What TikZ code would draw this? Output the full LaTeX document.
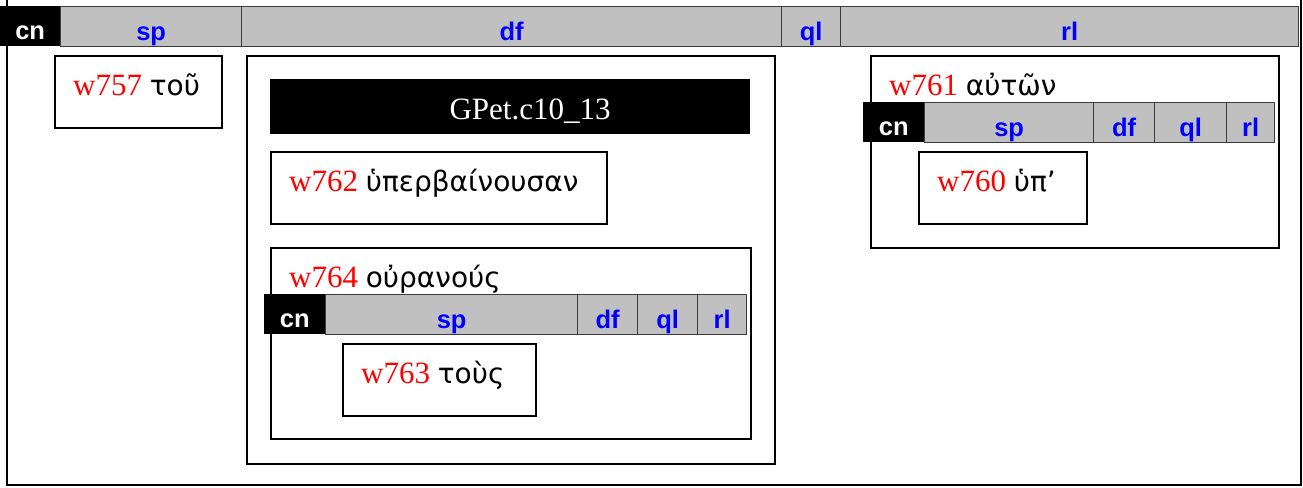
\documentclass[tikz,border=0pt]{standalone}
\usepackage{fontspec}
\setmainfont{Liberation Serif}
\setsansfont{Liberation Sans}
\newfontfamily\greekfont{DejaVu Sans}
\definecolor{barfill}{RGB}{192,192,192}
\definecolor{barline}{RGB}{60,60,60}
\definecolor{lblblue}{RGB}{0,0,255}
\definecolor{wred}{RGB}{255,0,0}
\newcommand\gk[1]{{\greekfont\fontsize{28}{28}\selectfont #1}}
\newcommand\wn[1]{\textcolor{wred}{#1}}
\tikzset{
  cellbox/.style={draw=barline, line width=1.3pt, fill=barfill, inner sep=0pt, minimum height=40pt, anchor=north west},
  cnbox/.style={fill=black, inner sep=0pt, minimum height=40pt, anchor=north west},
  celllabel/.style={inner sep=0pt, anchor=base, text=lblblue, font=\sffamily\bfseries\fontsize{25.5}{25.5}\selectfont},
  cnlabel/.style={celllabel, text=white},
  wbox/.style={draw=black, line width=2pt, inner sep=0pt, anchor=north west},
  wlabel/.style={inner sep=0pt, anchor=base west, font=\fontsize{31}{31}\selectfont},
  gpetbar/.style={fill=black, inner sep=0pt, anchor=north west},
  gpetlabel/.style={inner sep=0pt, anchor=base, text=white, font=\fontsize{31}{31}\selectfont}
}
% name, x, y, width, kind(cell/cn), label
\newcommand\hcell[6]{%
  \node[#5box, minimum width=#4pt] (#1) at (#2,#3) {};
  \node[#5label] (#1t) at ([yshift=7pt]#1.south) {#6};}
\begin{document}
\begin{tikzpicture}[x=1pt,y=-1pt]
\useasboundingbox (0,0) rectangle (1303,487);
\clip (0,0) rectangle (1303,487);
% outer frame
\node[wbox, minimum width=1294pt, minimum height=510pt, anchor=south west] (outer) at (6,486) {};
% top header
\hcell{hsp}{60}{6}{181}{cell}{sp}
\hcell{hdf}{241}{6}{540}{cell}{df}
\hcell{hql}{781}{6}{59}{cell}{ql}
\hcell{hrl}{840}{6}{458}{cell}{rl}
\hcell{hcn}{0}{6}{60}{cn}{cn}
% sp column
\node[wbox, minimum width=167pt, minimum height=72pt] (b757) at (54,55) {};
\node[wlabel] (t757) at ([xshift=19pt,yshift=-40pt]b757.north west) {\wn{w757} \gk{τοῦ}};
% df column
\node[wbox, minimum width=528pt, minimum height=408pt] (bdf) at (246,55) {};
\node[gpetbar, minimum width=480pt, minimum height=55pt] (gpet) at (270,79) {};
\node[gpetlabel] (gpett) at (530,119) {GPet.c10\_13};
\node[wbox, minimum width=336pt, minimum height=72pt] (b762) at (270,151) {};
\node[wlabel] (t762) at ([xshift=19pt,yshift=-40pt]b762.north west) {\wn{w762} \gk{ὑπερβαίνουσαν}};
\node[wbox, minimum width=480pt, minimum height=191pt] (b764) at (270,247) {};
\node[wlabel] (t764) at ([xshift=19pt,yshift=-40pt]b764.north west) {\wn{w764} \gk{οὐρανούς}};
\hcell{isp}{325}{294}{252}{cell}{sp}
\hcell{idf}{577}{294}{60}{cell}{df}
\hcell{iql}{637}{294}{60}{cell}{ql}
\hcell{irl}{697}{294}{49}{cell}{rl}
\hcell{icn}{264}{294}{61}{cn}{cn}
\node[wbox, minimum width=193pt, minimum height=72pt] (b763) at (342,343) {};
\node[wlabel] (t763) at ([xshift=19pt,yshift=-40pt]b763.north west) {\wn{w763} \gk{τοὺς}};
% rl column
\node[wbox, minimum width=408pt, minimum height=192pt] (b761) at (870,55) {};
\node[wlabel] (t761) at ([xshift=19pt,yshift=-40pt]b761.north west) {\wn{w761} \gk{αὐτῶν}};
\hcell{rsp}{924}{102}{169}{cell}{sp}
\hcell{rdf}{1093}{102}{61}{cell}{df}
\hcell{rql}{1154}{102}{72}{cell}{ql}
\hcell{rrl}{1226}{102}{48}{cell}{rl}
\hcell{rcn}{863}{102}{61}{cn}{cn}
\node[wbox, minimum width=168pt, minimum height=72pt] (b760) at (918,151) {};
\node[wlabel] (t760) at ([xshift=19pt,yshift=-40pt]b760.north west) {\wn{w760} \gk{ὑπ’}};
\end{tikzpicture}
\end{document}
